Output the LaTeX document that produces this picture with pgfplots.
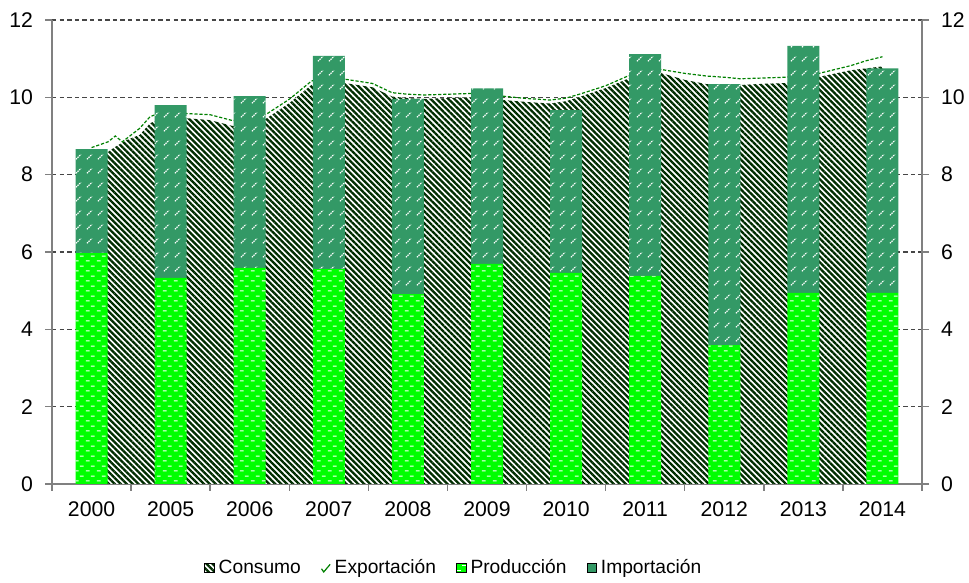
\documentclass[border=0pt]{standalone}
\usepackage{fontspec}
\setmainfont{Liberation Sans}
\usepackage{pgfplots}
\pgfplotsset{compat=1.18}
\usetikzlibrary{patterns,patterns.meta}

\definecolor{prodGreen}{RGB}{0,255,0}
\definecolor{impGreen}{RGB}{51,153,102}
\definecolor{consDark}{RGB}{0,45,0}
\definecolor{expGreen}{RGB}{0,128,0}
\definecolor{gridGray}{RGB}{70,70,70}
\definecolor{axisGray}{RGB}{128,128,128}

% white slanted dashes on the import bars
\pgfdeclarepatternformonly{impdash}{\pgfqpoint{0pt}{0pt}}{\pgfqpoint{5.3pt}{7pt}}{\pgfqpoint{5.3pt}{7pt}}{%
  \pgfsetlinewidth{0.6pt}\pgfsetdash{{0.7pt}{0.5pt}}{0pt}%
  \pgfpathmoveto{\pgfqpoint{1pt}{2pt}}\pgfpathlineto{\pgfqpoint{3.6pt}{4.6pt}}\pgfusepath{stroke}}
% white flat dashes on the production bars
\pgfdeclarepatternformonly{proddash}{\pgfqpoint{0pt}{0pt}}{\pgfqpoint{5.3pt}{5pt}}{\pgfqpoint{5.3pt}{5pt}}{%
  \pgfsetlinewidth{0.55pt}%
  \pgfpathmoveto{\pgfqpoint{0.5pt}{1.2pt}}\pgfpathlineto{\pgfqpoint{2.4pt}{1.2pt}}%
  \pgfpathmoveto{\pgfqpoint{3.1pt}{3.7pt}}\pgfpathlineto{\pgfqpoint{5pt}{3.7pt}}%
  \pgfusepath{stroke}}

\tikzset{hatch/.style={pattern={Lines[angle=-45,distance=2.1pt,line width=1.15pt]}, pattern color=consDark}}
\pgfplotsset{
  base/.style={
    scale only axis, width=435pt, height=232pt,
    xmin=-0.5, xmax=10.5, ymin=0, ymax=12,
    /pgf/number format/assume math mode=true,
    tick label style={font=\fontsize{10.6}{12}\selectfont},
  },
}

\begin{document}
\begin{tikzpicture}
% consumption area and export line, grid and left/bottom axes
\begin{axis}[
    base,
    axis x line*=bottom,
    axis y line*=left,
    axis line style={axisGray, line width=0.7pt},
    tick style={axisGray, line width=0.7pt},
    tick align=outside,
    major tick length=3.5pt,
    ytick={0,2,...,12},
    yticklabel style={xshift=-2.5pt},
    xtick={-0.5,0.5,...,10.5},
    x tick label as interval=true,
    xticklabels={2000,2005,2006,2007,2008,2009,2010,2011,2012,2013,2014},
    xticklabel style={yshift=-2pt},
    ymajorgrids=true,
    grid style={gridGray, line width=0.6pt, dash pattern=on 2.2pt off 1.6pt},
]
\addplot[draw=none, fill=white, postaction={hatch}] coordinates {
    (0,8.50) (0.21,8.59) (0.30,8.72) (0.45,8.90) (0.61,9.03) (0.74,9.33)
    (1.0,9.55) (1.2,9.46) (1.5,9.41) (1.78,9.26) (2.0,9.28) (2.2,9.44)
    (2.5,9.85) (2.78,10.32) (3.0,10.45) (3.2,10.37) (3.55,10.26) (3.8,10.02)
    (4.0,9.98) (4.2,9.96) (4.5,9.98) (4.8,10.00) (5.0,9.95) (5.2,9.93)
    (5.5,9.88) (5.8,9.84) (6.0,9.90) (6.2,10.03) (6.5,10.24) (6.78,10.48)
    (7.0,10.55) (7.2,10.63) (7.5,10.45) (7.78,10.34) (8.0,10.33) (8.2,10.32)
    (8.5,10.35) (8.78,10.37) (9.0,10.45) (9.2,10.53) (9.6,10.70) (9.8,10.75)
    (10.0,10.80)
} \closedcycle;
\addplot[expGreen, line width=0.6pt, dash pattern=on 1.6pt off 0.9pt] coordinates {
    (0,8.70) (0.21,8.85) (0.30,9.00) (0.39,8.85) (0.61,9.20) (0.74,9.50)
    (1.0,9.70) (1.2,9.58) (1.5,9.55) (1.78,9.40) (2.0,9.40) (2.2,9.55)
    (2.5,9.95) (2.78,10.42) (3.0,10.55) (3.2,10.47) (3.55,10.36) (3.8,10.12)
    (4.0,10.08) (4.2,10.06) (4.5,10.08) (4.8,10.10) (5.0,10.05) (5.2,10.03)
    (5.5,9.97) (5.8,9.93) (6.0,9.98) (6.2,10.10) (6.5,10.30) (6.78,10.55)
    (7.0,10.63) (7.2,10.72) (7.5,10.62) (7.78,10.55) (8.0,10.52) (8.2,10.48)
    (8.5,10.50) (8.78,10.52) (9.0,10.58) (9.2,10.62) (9.6,10.82) (9.8,10.95)
    (10.0,11.05)
};
\coordinate (bl) at (rel axis cs:0,0);
\coordinate (tr) at (rel axis cs:1,1);
\end{axis}
% stacked bars
\begin{axis}[
    base,
    hide axis,
    ybar stacked,
    bar width=16pt,
]
\addplot[fill=prodGreen, draw=none, postaction={pattern=proddash, pattern color=white}] coordinates {
    (0,5.97) (1,5.33) (2,5.59) (3,5.56) (4,4.91) (5,5.69)
    (6,5.46) (7,5.38) (8,3.59) (9,4.94) (10,4.94)
};
\addplot[fill=impGreen, draw=none, postaction={pattern=impdash, pattern color=white}] coordinates {
    (0,2.69) (1,4.47) (2,4.44) (3,5.51) (4,5.05) (5,4.54)
    (6,4.21) (7,5.74) (8,6.75) (9,6.39) (10,5.81)
};
\end{axis}
% right axis and legend
\begin{axis}[
    base,
    axis x line=none,
    axis y line*=right,
    axis line style={axisGray, line width=0.7pt},
    tick style={axisGray, line width=0.7pt},
    tick align=outside,
    major tick length=3.5pt,
    ytick={0,2,...,12},
    yticklabel style={xshift=2.5pt},
    legend columns=-1,
    legend style={at={(0.463,-0.181)}, anchor=center, draw=none, fill=none,
        font=\fontsize{9.6}{11}\selectfont,
        /tikz/every even column/.append style={column sep=8pt}},
]
\addlegendimage{legend image code/.code={
    \fill[white] (0pt,-2.4pt) rectangle (4.8pt,2.4pt);
    \fill[hatch] (0pt,-2.4pt) rectangle (4.8pt,2.4pt);}}
\addlegendentry{Consumo}
\addlegendimage{legend image code/.code={
    \draw[expGreen, line width=0.6pt] (0.3pt,-0.4pt) -- (1.4pt,-2pt) -- (4.6pt,1.8pt);}}
\addlegendentry{Exportación}
\addlegendimage{legend image code/.code={
    \fill[prodGreen] (0pt,-2.4pt) rectangle (4.8pt,2.4pt);
    \fill[pattern=proddash, pattern color=white] (0pt,-2.4pt) rectangle (4.8pt,2.4pt);}}
\addlegendentry{Producción}
\addlegendimage{legend image code/.code={
    \fill[impGreen] (0pt,-2.4pt) rectangle (4.8pt,2.4pt);
    \fill[pattern=impdash, pattern color=white] (0pt,-2.4pt) rectangle (4.8pt,2.4pt);}}
\addlegendentry{Importación}
\end{axis}
\pgfresetboundingbox
\path[use as bounding box] ([shift={(-26pt,-49.5pt)}]bl) rectangle ([shift={(23.5pt,10pt)}]tr);
\end{tikzpicture}
\end{document}
